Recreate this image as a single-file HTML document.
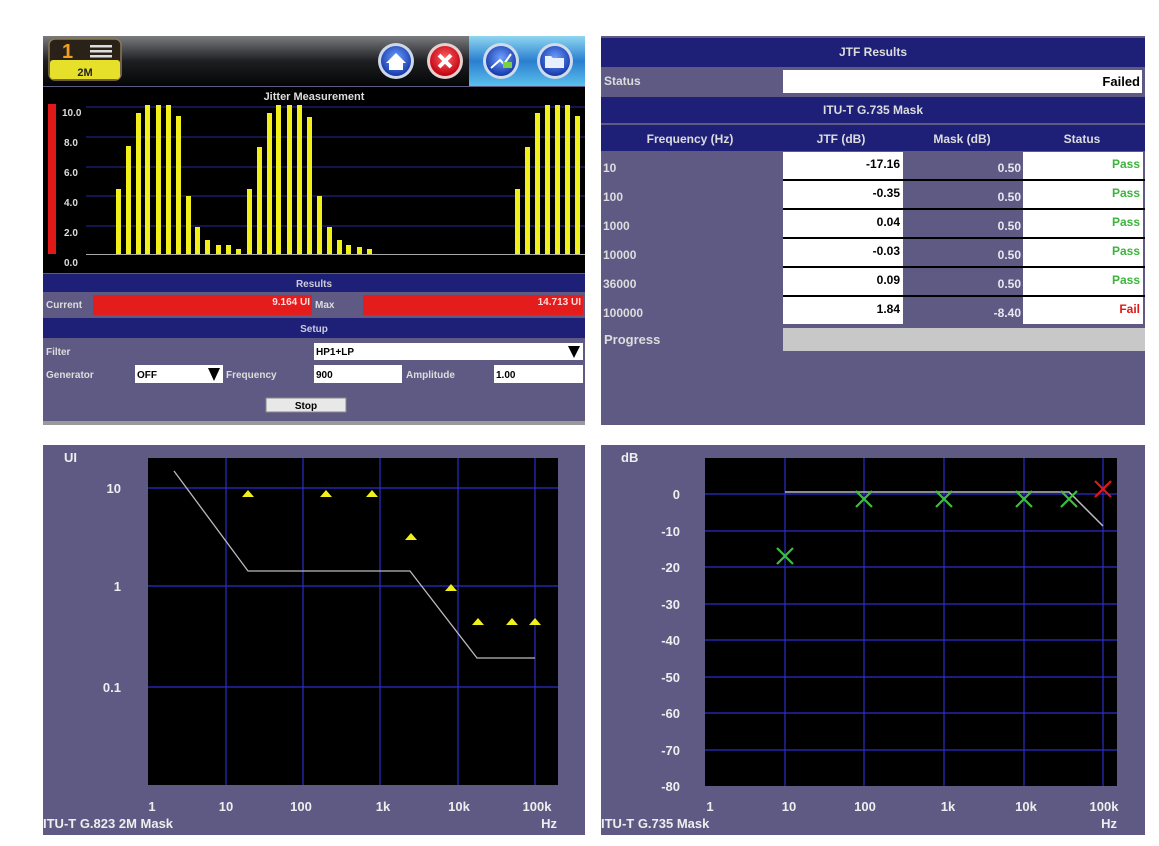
<!DOCTYPE html>
<html><head><meta charset="utf-8"><style>
html,body{margin:0;padding:0;background:#fff;}
svg{display:block;}
text{font-family:"Liberation Sans",sans-serif;font-weight:bold;}
</style></head><body>
<svg width="1159" height="846" viewBox="0 0 1159 846" xmlns="http://www.w3.org/2000/svg">
<defs>
<linearGradient id="hdr" x1="0" y1="0" x2="0" y2="1"><stop offset="0" stop-color="#7a7c80"/><stop offset="0.5" stop-color="#1e1f22"/><stop offset="1" stop-color="#050505"/></linearGradient>
<linearGradient id="blu" x1="0" y1="0" x2="0" y2="1"><stop offset="0" stop-color="#8fd6f0"/><stop offset="0.5" stop-color="#2a7fd0"/><stop offset="1" stop-color="#5cc0ec"/></linearGradient>
<radialGradient id="bb" cx="0.5" cy="0.4" r="0.6"><stop offset="0" stop-color="#6fa0ff"/><stop offset="1" stop-color="#1438a8"/></radialGradient>
<radialGradient id="rb" cx="0.5" cy="0.4" r="0.6"><stop offset="0" stop-color="#ff6060"/><stop offset="1" stop-color="#c00010"/></radialGradient>
</defs>

<!-- ============ TOP LEFT PANEL ============ -->
<rect x="43" y="36" width="542" height="389" fill="#5e5a84"/>
<rect x="43" y="36" width="542" height="50" fill="url(#hdr)"/>
<rect x="469" y="36" width="116" height="50" fill="url(#blu)"/>
<!-- badge -->
<rect x="49" y="39" width="72" height="41" rx="6" fill="#2a2218" stroke="#8a7a50" stroke-width="1.5"/>
<rect x="50" y="60" width="70" height="19" rx="3" fill="#e6e02a"/>
<text x="62" y="58" font-size="20" fill="#f0a020">1</text>
<rect x="90" y="45" width="22" height="2.5" fill="#ddd"/><rect x="90" y="50" width="22" height="2.5" fill="#ddd"/><rect x="90" y="55" width="22" height="2.5" fill="#ddd"/>
<text x="85" y="76" font-size="11" fill="#222" text-anchor="middle">2M</text>
<!-- icons -->
<circle cx="396" cy="61" r="18" fill="#cfd8e8"/><circle cx="396" cy="61" r="15" fill="url(#bb)"/>
<path d="M386 63 L396 53 L406 63 L403 63 L403 70 L389 70 L389 63 Z" fill="#fff"/>
<circle cx="445" cy="61" r="18" fill="#e8d0d0"/><circle cx="445" cy="61" r="15" fill="url(#rb)"/>
<path d="M439 55 L451 67 M451 55 L439 67" stroke="#fff" stroke-width="4"/>
<circle cx="501" cy="61" r="18" fill="#d0dcec"/><circle cx="501" cy="61" r="15" fill="url(#bb)"/>
<path d="M491 68 L500 60 L504 64 L511 54" stroke="#fff" stroke-width="2" fill="none"/><rect x="503" y="62" width="9" height="6" fill="#7ad040"/>
<circle cx="555" cy="61" r="18" fill="#d0dcec"/><circle cx="555" cy="61" r="15" fill="url(#bb)"/>
<path d="M545 56 L551 56 L553 58 L564 58 L564 68 L545 68 Z" fill="#e8f0ff"/>
<!-- jitter chart -->
<rect x="43" y="87" width="542" height="186" fill="#000"/>
<text x="314" y="100" font-size="11" fill="#ddd" text-anchor="middle">Jitter Measurement</text>
<rect x="48" y="104" width="8" height="150" fill="#e01818"/>
<g stroke="#2a2a9a" stroke-width="1">
<line x1="86" y1="107" x2="585" y2="107"/><line x1="86" y1="137" x2="585" y2="137"/><line x1="86" y1="167" x2="585" y2="167"/><line x1="86" y1="196" x2="585" y2="196"/><line x1="86" y1="226" x2="585" y2="226"/>
</g>
<line x1="86" y1="254.5" x2="585" y2="254.5" stroke="#aaa" stroke-width="1"/>
<g font-size="10" fill="#ddd">
<text x="62" y="116">10.0</text><text x="64" y="146">8.0</text><text x="64" y="176">6.0</text><text x="64" y="206">4.0</text><text x="64" y="236">2.0</text><text x="64" y="266">0.0</text>
</g>
<g fill="#f2f01a">
<rect x="116" y="189" width="5" height="65"/><rect x="126" y="146" width="5" height="108"/><rect x="136" y="113" width="5" height="141"/><rect x="145" y="105" width="5" height="149"/><rect x="156" y="105" width="5" height="149"/><rect x="166" y="105" width="5" height="149"/><rect x="176" y="116" width="5" height="138"/><rect x="186" y="196" width="5" height="58"/><rect x="195" y="227" width="5" height="27"/><rect x="205" y="240" width="5" height="14"/><rect x="216" y="245" width="5" height="9"/><rect x="226" y="245" width="5" height="9"/><rect x="236" y="249" width="5" height="5"/>
<rect x="247" y="189" width="5" height="65"/><rect x="257" y="147" width="5" height="107"/><rect x="267" y="113" width="5" height="141"/><rect x="276" y="105" width="5" height="149"/><rect x="287" y="105" width="5" height="149"/><rect x="297" y="105" width="5" height="149"/><rect x="307" y="117" width="5" height="137"/><rect x="317" y="196" width="5" height="58"/><rect x="327" y="227" width="5" height="27"/><rect x="337" y="240" width="5" height="14"/><rect x="346" y="245" width="5" height="9"/><rect x="357" y="247" width="5" height="7"/><rect x="367" y="249" width="5" height="5"/>
<rect x="515" y="189" width="5" height="65"/><rect x="525" y="147" width="5" height="107"/><rect x="535" y="113" width="5" height="141"/><rect x="545" y="105" width="5" height="149"/><rect x="555" y="105" width="5" height="149"/><rect x="565" y="105" width="5" height="149"/><rect x="575" y="116" width="5" height="138"/>
</g>
<!-- results -->
<rect x="43" y="274" width="542" height="18" fill="#1e2078"/>
<text x="314" y="287" font-size="10" fill="#ccd" text-anchor="middle">Results</text>
<text x="46" y="308" font-size="10" fill="#ddd">Current</text>
<rect x="93" y="295" width="219" height="20" fill="#e41c1c"/>
<text x="310" y="305" font-size="10" fill="#fdd" text-anchor="end">9.164 UI</text>
<text x="315" y="308" font-size="10" fill="#ddd">Max</text>
<rect x="363" y="295" width="220" height="20" fill="#e41c1c"/>
<text x="581" y="305" font-size="10" fill="#fdd" text-anchor="end">14.713 UI</text>
<rect x="43" y="318" width="542" height="20" fill="#1e2078"/>
<text x="314" y="332" font-size="10" fill="#ccd" text-anchor="middle">Setup</text>
<text x="46" y="355" font-size="10" fill="#ddd">Filter</text>
<rect x="314" y="343" width="269" height="17" fill="#fff"/>
<text x="316" y="355" font-size="10" fill="#000">HP1+LP</text>
<path d="M568 346 L580 346 L574 358 Z" fill="#000"/>
<text x="46" y="378" font-size="10" fill="#ddd">Generator</text>
<rect x="135" y="365" width="88" height="18" fill="#fff"/>
<text x="137" y="378" font-size="10" fill="#000">OFF</text>
<path d="M208 368 L220 368 L214 381 Z" fill="#000"/>
<text x="226" y="378" font-size="10" fill="#ddd">Frequency</text>
<rect x="314" y="365" width="88" height="18" fill="#fff"/>
<text x="316" y="378" font-size="10" fill="#000">900</text>
<text x="406" y="378" font-size="10" fill="#ddd">Amplitude</text>
<rect x="494" y="365" width="89" height="18" fill="#fff"/>
<text x="496" y="378" font-size="10" fill="#000">1.00</text>
<rect x="266" y="398" width="80" height="14" fill="#e8e8e8" stroke="#888"/>
<text x="306" y="409" font-size="10" fill="#000" text-anchor="middle">Stop</text>
<rect x="43" y="421" width="542" height="4" fill="#999"/>

<!-- ============ TOP RIGHT PANEL ============ -->
<rect x="601" y="36" width="544" height="389" fill="#5e5a84"/>
<rect x="601" y="38" width="544" height="29" fill="#1e2078"/>
<text x="873" y="56" font-size="12" fill="#ddd" text-anchor="middle">JTF Results</text>
<text x="604" y="85" font-size="12" fill="#ddd">Status</text>
<rect x="783" y="70" width="359" height="23" fill="#fff"/>
<text x="1140" y="86" font-size="13" fill="#000" text-anchor="end">Failed</text>
<rect x="601" y="97" width="544" height="26" fill="#1e2078"/>
<text x="873" y="114" font-size="12" fill="#ddd" text-anchor="middle">ITU-T G.735 Mask</text>
<rect x="601" y="125" width="544" height="26" fill="#1e2078"/>
<g font-size="12" fill="#ddd" text-anchor="middle">
<text x="690" y="143">Frequency (Hz)</text><text x="841" y="143">JTF (dB)</text><text x="962" y="143">Mask (dB)</text><text x="1082" y="143">Status</text>
</g>
<g font-size="12">
<rect x="783" y="152" width="120" height="27" fill="#fff"/><rect x="1023" y="152" width="120" height="27" fill="#fff"/><line x1="783" y1="180" x2="1145" y2="180" stroke="#000" stroke-width="2"/>
<rect x="783" y="181" width="120" height="27" fill="#fff"/><rect x="1023" y="181" width="120" height="27" fill="#fff"/><line x1="783" y1="209" x2="1145" y2="209" stroke="#000" stroke-width="2"/>
<rect x="783" y="210" width="120" height="27" fill="#fff"/><rect x="1023" y="210" width="120" height="27" fill="#fff"/><line x1="783" y1="238" x2="1145" y2="238" stroke="#000" stroke-width="2"/>
<rect x="783" y="239" width="120" height="27" fill="#fff"/><rect x="1023" y="239" width="120" height="27" fill="#fff"/><line x1="783" y1="267" x2="1145" y2="267" stroke="#000" stroke-width="2"/>
<rect x="783" y="268" width="120" height="27" fill="#fff"/><rect x="1023" y="268" width="120" height="27" fill="#fff"/><line x1="783" y1="296" x2="1145" y2="296" stroke="#000" stroke-width="2"/>
<rect x="783" y="297" width="120" height="27" fill="#fff"/><rect x="1023" y="297" width="120" height="27" fill="#fff"/>
<g fill="#ddd"><text x="603" y="172">10</text><text x="603" y="201">100</text><text x="603" y="230">1000</text><text x="603" y="259">10000</text><text x="603" y="288">36000</text><text x="603" y="317">100000</text></g>
<g fill="#000" text-anchor="end"><text x="900" y="168">-17.16</text><text x="900" y="197">-0.35</text><text x="900" y="226">0.04</text><text x="900" y="255">-0.03</text><text x="900" y="284">0.09</text><text x="900" y="313">1.84</text></g>
<g fill="#e8e8f0" text-anchor="end"><text x="1021" y="172">0.50</text><text x="1021" y="201">0.50</text><text x="1021" y="230">0.50</text><text x="1021" y="259">0.50</text><text x="1021" y="288">0.50</text><text x="1021" y="317">-8.40</text></g>
<g fill="#3cb43c" text-anchor="end"><text x="1140" y="168">Pass</text><text x="1140" y="197">Pass</text><text x="1140" y="226">Pass</text><text x="1140" y="255">Pass</text><text x="1140" y="284">Pass</text></g>
<text x="1140" y="313" fill="#e01818" text-anchor="end">Fail</text>
</g>
<text x="604" y="344" font-size="13" fill="#ddd">Progress</text>
<rect x="783" y="328" width="362" height="23" fill="#c8c8c8"/>

<!-- ============ BOTTOM LEFT PANEL ============ -->
<rect x="43" y="445" width="542" height="390" fill="#5e5a84"/>
<rect x="148" y="458" width="410" height="327" fill="#000"/>
<g stroke="#2c2ccc" stroke-width="1.2">
<line x1="226" y1="458" x2="226" y2="785"/><line x1="303" y1="458" x2="303" y2="785"/><line x1="380" y1="458" x2="380" y2="785"/><line x1="458" y1="458" x2="458" y2="785"/><line x1="535" y1="458" x2="535" y2="785"/>
<line x1="148" y1="488" x2="558" y2="488"/><line x1="148" y1="586" x2="558" y2="586"/><line x1="148" y1="687" x2="558" y2="687"/>
</g>
<polyline points="174,471 248,571 410,571 477,658 535,658" fill="none" stroke="#bbb" stroke-width="1.3"/>
<g fill="#f2f01a">
<path d="M242 497 L254 497 L248 490 Z"/><path d="M320 497 L332 497 L326 490 Z"/><path d="M366 497 L378 497 L372 490 Z"/><path d="M405 540 L417 540 L411 533 Z"/><path d="M445 591 L457 591 L451 584 Z"/><path d="M472 625 L484 625 L478 618 Z"/><path d="M506 625 L518 625 L512 618 Z"/><path d="M529 625 L541 625 L535 618 Z"/>
</g>
<g font-size="13" fill="#eee">
<text x="64" y="462">UI</text>
<text x="121" y="493" text-anchor="end">10</text><text x="121" y="591" text-anchor="end">1</text><text x="121" y="692" text-anchor="end">0.1</text>
<g text-anchor="middle"><text x="152" y="811">1</text><text x="226" y="811">10</text><text x="301" y="811">100</text><text x="383" y="811">1k</text><text x="459" y="811">10k</text><text x="537" y="811">100k</text></g>
<text x="557" y="828" text-anchor="end">Hz</text>
<text x="43" y="828">ITU-T G.823 2M Mask</text>
</g>

<!-- ============ BOTTOM RIGHT PANEL ============ -->
<rect x="601" y="445" width="544" height="390" fill="#5e5a84"/>
<rect x="705" y="458" width="412" height="328" fill="#000"/>
<g stroke="#2c2ccc" stroke-width="1.2">
<line x1="785" y1="458" x2="785" y2="786"/><line x1="864" y1="458" x2="864" y2="786"/><line x1="944" y1="458" x2="944" y2="786"/><line x1="1024" y1="458" x2="1024" y2="786"/><line x1="1103" y1="458" x2="1103" y2="786"/>
<line x1="705" y1="494" x2="1117" y2="494"/><line x1="705" y1="531" x2="1117" y2="531"/><line x1="705" y1="567" x2="1117" y2="567"/><line x1="705" y1="604" x2="1117" y2="604"/><line x1="705" y1="640" x2="1117" y2="640"/><line x1="705" y1="677" x2="1117" y2="677"/><line x1="705" y1="713" x2="1117" y2="713"/><line x1="705" y1="750" x2="1117" y2="750"/>
</g>
<polyline points="785,492 1069,492 1103,526" fill="none" stroke="#bbb" stroke-width="1.5"/>
<g stroke="#3cc03c" stroke-width="2.2">
<path d="M777 548 L793 564 M793 548 L777 564"/>
<path d="M856 491 L872 507 M872 491 L856 507"/>
<path d="M936 491 L952 507 M952 491 L936 507"/>
<path d="M1016 491 L1032 507 M1032 491 L1016 507"/>
<path d="M1061 491 L1077 507 M1077 491 L1061 507"/>
</g>
<path d="M1095 481 L1111 497 M1111 481 L1095 497" stroke="#e01818" stroke-width="2.2"/>
<g font-size="13" fill="#eee">
<text x="621" y="462">dB</text>
<g text-anchor="end"><text x="680" y="499">0</text><text x="680" y="536">-10</text><text x="680" y="572">-20</text><text x="680" y="609">-30</text><text x="680" y="645">-40</text><text x="680" y="682">-50</text><text x="680" y="718">-60</text><text x="680" y="755">-70</text><text x="680" y="791">-80</text></g>
<g text-anchor="middle"><text x="710" y="811">1</text><text x="789" y="811">10</text><text x="865" y="811">100</text><text x="948" y="811">1k</text><text x="1026" y="811">10k</text><text x="1104" y="811">100k</text></g>
<text x="1117" y="828" text-anchor="end">Hz</text>
<text x="601" y="828">ITU-T G.735 Mask</text>
</g>
</svg>
</body></html>
